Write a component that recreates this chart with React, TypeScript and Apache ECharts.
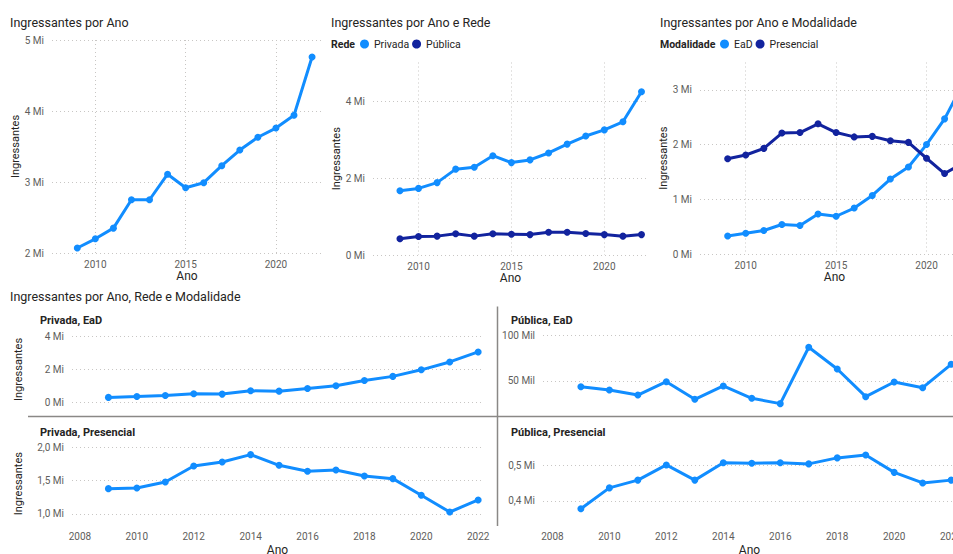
import React, { useEffect, useRef } from 'react';
import * as echarts from 'echarts';

// ---------- Data ----------
const years = [2009, 2010, 2011, 2012, 2013, 2014, 2015, 2016, 2017, 2018, 2019, 2020, 2021, 2022];

// Ingressantes (milhões)
const totalIngressantes = [2.07, 2.20, 2.35, 2.75, 2.75, 3.11, 2.92, 2.99, 3.23, 3.45, 3.63, 3.76, 3.94, 4.76];
const redePrivada = [1.67, 1.73, 1.88, 2.23, 2.28, 2.58, 2.40, 2.47, 2.65, 2.88, 3.09, 3.25, 3.46, 4.24];
const redePublica = [0.42, 0.48, 0.49, 0.55, 0.49, 0.55, 0.54, 0.53, 0.59, 0.59, 0.56, 0.53, 0.49, 0.53];
const modalidadeEaD = [0.33, 0.38, 0.43, 0.54, 0.52, 0.73, 0.69, 0.84, 1.07, 1.37, 1.59, 2.0, 2.47, 3.1];
const modalidadePresencial = [1.74, 1.81, 1.93, 2.21, 2.22, 2.38, 2.22, 2.14, 2.15, 2.07, 2.04, 1.75, 1.47, 1.66];
const privadaEaD = [0.30, 0.35, 0.42, 0.52, 0.50, 0.70, 0.68, 0.84, 1.01, 1.33, 1.58, 1.98, 2.46, 3.07];
const privadaPresencial = [1.38, 1.39, 1.48, 1.72, 1.78, 1.89, 1.73, 1.64, 1.66, 1.57, 1.53, 1.28, 1.03, 1.21];
// Pública EaD in milhares (Mil)
const publicaEaD = [43.7, 40.1, 34.5, 49.2, 29.8, 44.5, 30.9, 25.0, 87.2, 63.2, 32.7, 48.9, 42.6, 68.4];
const publicaPresencial = [0.378, 0.437, 0.459, 0.502, 0.459, 0.508, 0.507, 0.508, 0.505, 0.522, 0.530, 0.481, 0.451, 0.459];

// Tick values
const topYearTicks = [2010, 2015, 2020];
const bottomYearTicks = [2008, 2010, 2012, 2014, 2016, 2018, 2020, 2022];
const ticksTotal = [2, 3, 4, 5];
const ticksRede = [0, 2, 4];
const ticksModalidade = [0, 1, 2, 3];
const ticksPrivadaEaD = [0, 2, 4];
const ticksPublicaEaD = [50, 100];
const ticksPrivadaPresencial = [1.0, 1.5, 2.0];
const ticksPublicaPresencial = [0.4, 0.5];

// ---------- Styles ----------
const FONT = 'Roboto, "Open Sans", "DejaVu Sans", sans-serif';
const LIGHT = '#118DFF';
const DARK = '#12239E';
const LABEL = '#605E5C';
const TITLE = '#252423';
const GRIDLINE = '#C8C6C4';

const pairs = (vals: number[]) => years.map((y, i) => [y, vals[i]]);

const fmtMi = (dec: number) => (v: number) => `${v.toFixed(dec).replace('.', ',')} Mi`;
const fmtMil = (v: number) => `${v} Mil`;

function xAxis(gridIndex: number, min: number, max: number, ticks: number[], showLabels: boolean, vGrid: boolean, nameGap: number) {
  return {
    type: 'value',
    gridIndex,
    min,
    max,
    name: showLabels ? 'Ano' : '',
    nameLocation: 'middle',
    nameGap,
    nameTextStyle: { color: TITLE, fontSize: 12, fontFamily: FONT },
    axisLine: { show: false },
    axisTick: { show: false, customValues: ticks },
    axisLabel: {
      show: showLabels,
      customValues: ticks,
      color: LABEL,
      fontSize: 10,
      fontFamily: FONT,
      margin: showLabels && nameGap > 20 ? 11 : 6,
      formatter: (v: number) => String(v),
    },
    splitLine: { show: vGrid, lineStyle: { color: GRIDLINE, type: [1, 3], width: 1 } },
  };
}

function yAxis(gridIndex: number, min: number, max: number, ticks: number[], fmt: (v: number) => string, name: string, nameGap: number) {
  return {
    type: 'value',
    gridIndex,
    min,
    max,
    name,
    nameLocation: 'middle',
    nameRotate: 90,
    nameGap,
    nameTextStyle: { color: TITLE, fontSize: 11, fontFamily: FONT },
    axisLine: { show: false },
    axisTick: { show: false, customValues: ticks },
    axisLabel: { customValues: ticks, color: LABEL, fontSize: 10, fontFamily: FONT, margin: 8, formatter: fmt },
    splitLine: { show: true, lineStyle: { color: GRIDLINE, type: [1, 3], width: 1 } },
  };
}

function line(name: string, idx: number, vals: number[], color: string) {
  return {
    type: 'line',
    name,
    xAxisIndex: idx,
    yAxisIndex: idx,
    data: pairs(vals),
    symbol: 'circle',
    symbolSize: 7,
    lineStyle: { color, width: 3 },
    itemStyle: { color },
    emphasis: { disabled: true },
  };
}

function text(x: number, y: number, t: string, size: number, weight: string = 'normal', color: string = TITLE) {
  return {
    type: 'text',
    x,
    y,
    silent: true,
    style: { text: t, fill: color, fontSize: size, fontWeight: weight, fontFamily: FONT, verticalAlign: 'middle' },
  };
}

function grid(left: number, top: number, width: number, height: number) {
  return { left, top, width, height, outerBoundsMode: 'none', containLabel: false };
}

export default function App() {
  const ref = useRef<HTMLDivElement>(null);

  useEffect(() => {
    if (!ref.current) return;
    const chart = echarts.init(ref.current, undefined, { renderer: 'svg' });

    const legendBase = {
      top: 38.5,
      icon: 'circle',
      itemWidth: 9,
      itemHeight: 9,
      itemGap: 3,
      padding: 0,
      selectedMode: false,
      textStyle: { color: TITLE, fontSize: 10.5, fontFamily: FONT },
    };

    const option = {
      animation: false,
      backgroundColor: '#ffffff',
      grid: [
        grid(52, 40, 270, 213),
        grid(373, 62.5, 275, 192.5),
        grid(700, 62.5, 269, 191.5),
        grid(72, 336.7, 411, 65.6),
        grid(543, 335.7, 413, 77),
        grid(72, 447.3, 411, 72.7),
        grid(543, 447.3, 413, 72.7),
      ],
      xAxis: [
        xAxis(0, 2007.6, 2022.55, topYearTicks, true, true, 17),
        xAxis(1, 2007.55, 2022.35, topYearTicks, true, true, 17),
        xAxis(2, 2007.47, 2022.35, topYearTicks, true, true, 17),
        xAxis(3, 2007.72, 2022.17, bottomYearTicks, false, false, 24),
        xAxis(4, 2007.67, 2022.17, bottomYearTicks, false, false, 24),
        xAxis(5, 2007.72, 2022.17, bottomYearTicks, true, false, 24),
        xAxis(6, 2007.67, 2022.17, bottomYearTicks, true, false, 24),
      ],
      yAxis: [
        yAxis(0, 2, 5, ticksTotal, fmtMi(0), 'Ingressantes', 28),
        yAxis(1, 0, 5, ticksRede, fmtMi(0), 'Ingressantes', 28),
        yAxis(2, 0, 3.5, ticksModalidade, fmtMi(0), 'Ingressantes', 27),
        yAxis(3, 0, 4, ticksPrivadaEaD, fmtMi(0), 'Ingressantes', 48),
        yAxis(4, 15, 100, ticksPublicaEaD, fmtMil, '', 40),
        yAxis(5, 0.91, 2.0, ticksPrivadaPresencial, fmtMi(1), 'Ingressantes', 48),
        yAxis(6, 0.346, 0.552, ticksPublicaPresencial, fmtMi(1), '', 40),
      ],
      legend: [
        { ...legendBase, data: ['Privada', 'Pública'], left: 360 },
        { ...legendBase, data: ['EaD', 'Presencial'], left: 720 },
      ],
      series: [
        line('Ingressantes', 0, totalIngressantes, LIGHT),
        line('Privada', 1, redePrivada, LIGHT),
        line('Pública', 1, redePublica, DARK),
        line('EaD', 2, modalidadeEaD, LIGHT),
        line('Presencial', 2, modalidadePresencial, DARK),
        line('Privada, EaD', 3, privadaEaD, LIGHT),
        line('Pública, EaD', 4, publicaEaD, LIGHT),
        line('Privada, Presencial', 5, privadaPresencial, LIGHT),
        line('Pública, Presencial', 6, publicaPresencial, LIGHT),
      ],
      graphic: [
        text(10, 22, 'Ingressantes por Ano', 12.5),
        text(331, 22, 'Ingressantes por Ano e Rede', 12.5),
        text(660, 22, 'Ingressantes por Ano e Modalidade', 12.5),
        text(331, 44, 'Rede', 10.5, 'bold'),
        text(660, 44, 'Modalidade', 10.5, 'bold'),
        text(10, 296, 'Ingressantes por Ano, Rede e Modalidade', 12.5),
        text(40, 320, 'Privada, EaD', 11, 'bold'),
        text(511, 320, 'Pública, EaD', 11, 'bold'),
        text(40, 432, 'Privada, Presencial', 11, 'bold'),
        text(511, 432, 'Pública, Presencial', 11, 'bold'),
        {
          type: 'line',
          silent: true,
          shape: { x1: 28, y1: 416.5, x2: 953, y2: 416.5 },
          style: { stroke: '#8A8886', lineWidth: 1.5 },
        },
        {
          type: 'line',
          silent: true,
          shape: { x1: 497.5, y1: 306.5, x2: 497.5, y2: 526 },
          style: { stroke: '#8A8886', lineWidth: 1.5 },
        },
      ],
    };

    chart.setOption(option as any);
    return () => chart.dispose();
  }, []);

  return (
    <div
      ref={ref}
      style={{ position: 'absolute', left: 0, top: 0, width: 953, height: 554, background: '#fff' }}
    />
  );
}
